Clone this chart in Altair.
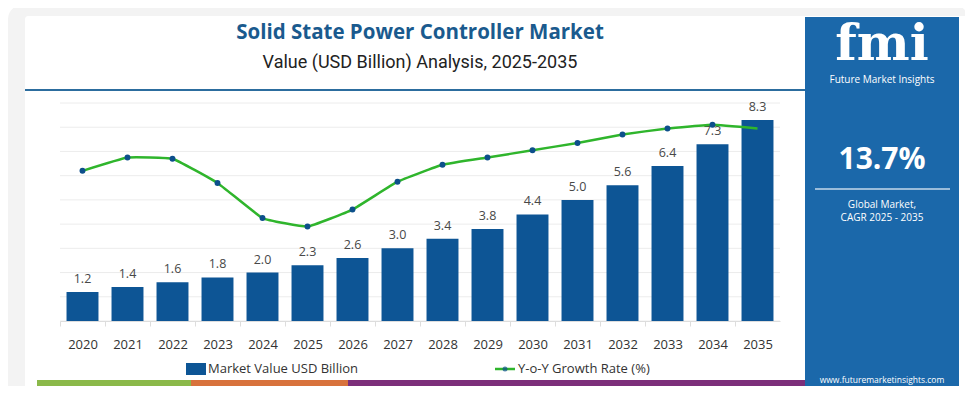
import altair as alt
import pandas as pd

years = [str(y) for y in range(2020, 2036)]
market_value = [1.2, 1.4, 1.6, 1.8, 2.0, 2.3, 2.6, 3.0, 3.4, 3.8, 4.4, 5.0, 5.6, 6.4, 7.3, 8.3]
yoy_growth = [12.4, 13.5, 13.4, 11.4, 8.5, 7.8, 9.2, 11.5, 12.9, 13.5, 14.1, 14.7, 15.4, 15.9, 16.2, 15.9]
bar_labels = [f"{v:.1f}" for v in market_value]
grid_values = [0, 1, 2, 3, 4, 5, 6, 7, 8, 9]

title = "Solid State Power Controller Market"
subtitle = "Value (USD Billion) Analysis, 2025-2035"
legend_bar = "Market Value USD Billion"
legend_line = "Y-o-Y Growth Rate (%)"
cagr = "13.7%"
cagr_lines = ["Global Market,", "CAGR 2025 - 2035"]
brand = "fmi"
brand_name = "Future Market Insights"
website = "www.futuremarketinsights.com"

df = pd.DataFrame({"year": years, "value": market_value, "growth": yoy_growth, "label": bar_labels})
grid_df = pd.DataFrame({"value": grid_values})
one = pd.DataFrame({"k": [0]})

PL, PT = 52, 95   # plot origin inside the chart
W, H = 720, 218

BAR = "#0d5595"
GREEN = "#2fb52c"
DOT = "#0d4f8b"
PANEL = "#1b68aa"
FONT = "Open Sans"


def px(x):
    return x - PL


def py(y):
    return y - PT


def rect(x1, y1, x2, y2, color, radius=0, opacity=1):
    return alt.Chart(one).mark_rect(color=color, cornerRadius=radius, opacity=opacity).encode(
        x=alt.value(px(x1)), x2=alt.value(px(x2)), y=alt.value(py(y1)), y2=alt.value(py(y2))
    )


def text(t, x, y, size, color="#222", weight="normal", align="center", font=FONT, baseline="middle"):
    return alt.Chart(one).mark_text(
        text=t, fontSize=size, color=color, fontWeight=weight, align=align, font=font, baseline=baseline
    ).encode(x=alt.value(px(x)), y=alt.value(py(y)))


def hline(x1, x2, y, color, width, opacity=1):
    return alt.Chart(one).mark_rule(color=color, strokeWidth=width, opacity=opacity).encode(
        x=alt.value(px(x1)), x2=alt.value(px(x2)), y=alt.value(py(y))
    )


background = alt.layer(
    rect(0, -3, 960, 420, "#f3f3f3", radius=14),
    rect(17, 8, 960, 420, "#ffffff", radius=3),
    rect(797, 9, 951, 420, PANEL),
    text(title, 412, 25, 20.5, color="#1a5a8e", weight="bold"),
    text(subtitle, 412, 55, 18, color="#222", font="Roboto"),
    hline(17, 797, 82, "#2c6d9e", 2),
    rect(29, 372, 183, 380, "#8bb94a"),
    rect(183, 372, 340, 380, "#d8723c"),
    rect(340, 372, 797, 380, "#7c2f7a"),
)

yscale = alt.Scale(domain=[0, 9], nice=False)

grid = alt.Chart(grid_df).mark_rule(color="#ececec", strokeWidth=1).encode(
    x=alt.value(0), x2=alt.value(W),
    y=alt.Y("value:Q", scale=yscale, axis=None),
)

x_enc = alt.X(
    "year:N",
    sort=years,
    title=None,
    scale=alt.Scale(paddingInner=0.29, paddingOuter=0.145),
    axis=alt.Axis(
        labelFontSize=13, labelColor="#333", labelFont=FONT, labelPadding=12,
        domainColor="#dddddd", tickColor="#dddddd", tickSize=5, tickOffset=-22.5,
        labelOffset=22.5, labelAngle=0, zindex=1,
    ),
)

bars = alt.Chart(df).mark_bar(color=BAR).encode(
    x=x_enc,
    y=alt.Y("value:Q", title=None, scale=yscale, axis=None),
)
labels = alt.Chart(df).mark_text(baseline="bottom", dy=-6, fontSize=12.5, color="#484848", font=FONT).encode(
    x=alt.X("year:N", sort=years),
    y=alt.Y("value:Q", scale=yscale, axis=None),
    text="label:N",
)
bar_layer = alt.layer(grid, bars, labels)

gscale = alt.Scale(domain=[0, 18], nice=False)
line = alt.Chart(df).mark_line(color=GREEN, strokeWidth=2.5, interpolate="cardinal", tension=0.7).encode(
    x=alt.X("year:N", sort=years),
    y=alt.Y("growth:Q", scale=gscale, axis=None),
)
points = alt.Chart(df).mark_point(filled=True, color=DOT, size=35).encode(
    x=alt.X("year:N", sort=years),
    y=alt.Y("growth:Q", scale=gscale, axis=None),
    opacity=alt.condition(alt.datum.year == "2035", alt.value(0), alt.value(1)),
)
line_layer = alt.layer(line, points)

foreground = alt.layer(
    # legend
    rect(178, 355, 198, 367, BAR),
    text(legend_bar, 200, 361, 13, color="#333", align="left"),
    hline(487, 507, 361, GREEN, 2.5),
    alt.Chart(one).mark_point(filled=True, color=DOT, size=25).encode(
        x=alt.value(px(497)), y=alt.value(py(361))),
    text(legend_line, 510, 361, 13, color="#333", align="left"),
    # right panel
    text(brand, 874, 52, 50, color="#ffffff", weight="bold", font="DejaVu Serif", baseline="alphabetic"),
    text(brand_name, 874, 72, 10, color="#ffffff"),
    text(cagr, 874, 152, 30, color="#ffffff", weight="bold"),
    hline(807, 942, 181, "#ffffff", 1.5, opacity=0.75),
    text(cagr_lines[0], 874, 197, 10, color="#ffffff"),
    text(cagr_lines[1], 874, 210, 10, color="#ffffff"),
    text(website, 874, 372, 8.5, color="#ffffff"),
)

chart = alt.layer(background, bar_layer, line_layer, foreground).resolve_scale(
    y="independent"
).properties(
    width=W, height=H,
    padding={"left": PL, "top": PT, "right": 185, "bottom": 65},
    autosize=alt.AutoSizeParams(type="none"),
    background="#ffffff",
).configure_view(stroke=None)

chart.save("out.html", embed_options={"renderer": "svg", "actions": False})
